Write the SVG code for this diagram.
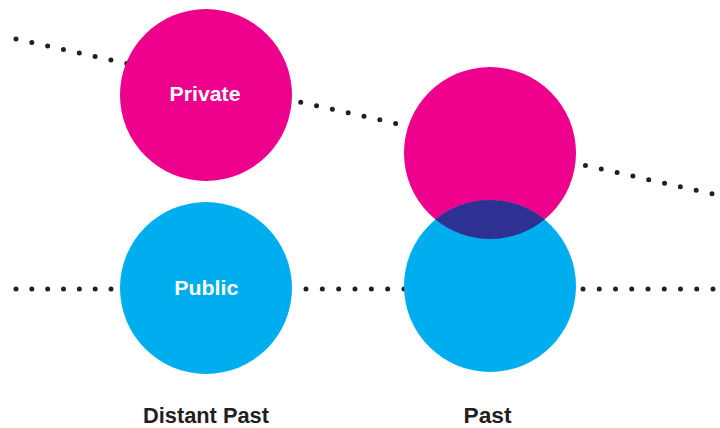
<svg xmlns="http://www.w3.org/2000/svg" width="720" height="428" viewBox="0 0 720 428">
<style>
.dots{stroke:#231F20;stroke-width:5;stroke-linecap:round;fill:none}
.pink{fill:#EC008C}
.blue{fill:#00AEEF}
.lens{fill:#2E3192}
.in{font-family:"Liberation Sans",Arial,sans-serif;font-weight:bold;fill:#FFFFFF;text-anchor:middle}
.cap{font-family:"Liberation Sans",Arial,sans-serif;font-weight:bold;fill:#231F20;text-anchor:middle}
</style>
<rect width="720" height="428" fill="#FFFFFF"/>
<g id="connectors">
<line class="dots" x1="16" y1="39" x2="712.1" y2="193.72" stroke-dasharray="0 16.204"/>
<line class="dots" x1="16" y1="289" x2="111.1" y2="289" stroke-dasharray="0 15.833"/>
<line class="dots" x1="306" y1="289" x2="404.1" y2="289" stroke-dasharray="0 16.333"/>
<line class="dots" x1="583" y1="289" x2="713.1" y2="289" stroke-dasharray="0 16.25"/>
</g>
<g id="private-distant">
<circle class="pink" cx="206" cy="95" r="86"/>
<text class="in" x="205" y="100.5" font-size="20" textLength="71" lengthAdjust="spacingAndGlyphs">Private</text>
</g>
<g id="public-distant">
<circle class="blue" cx="206" cy="288" r="86"/>
<text class="in" x="206.3" y="294.5" font-size="20" textLength="64" lengthAdjust="spacingAndGlyphs">Public</text>
</g>
<g id="private-past">
<circle class="pink" cx="490" cy="153" r="86"/>
</g>
<g id="public-past">
<circle class="blue" cx="490" cy="286" r="86"/>
</g>
<g id="overlap">
<path class="lens" d="M435.47,219.5 A86,86 0 0,1 544.53,219.5 A86,86 0 0,1 435.47,219.5 Z"/>
</g>
<g id="label-distant-past">
<text class="cap" x="206" y="423" font-size="22.5" textLength="126" lengthAdjust="spacingAndGlyphs">Distant Past</text>
</g>
<g id="label-past">
<text class="cap" x="487.5" y="423" font-size="22.5" textLength="48" lengthAdjust="spacingAndGlyphs">Past</text>
</g>
</svg>
